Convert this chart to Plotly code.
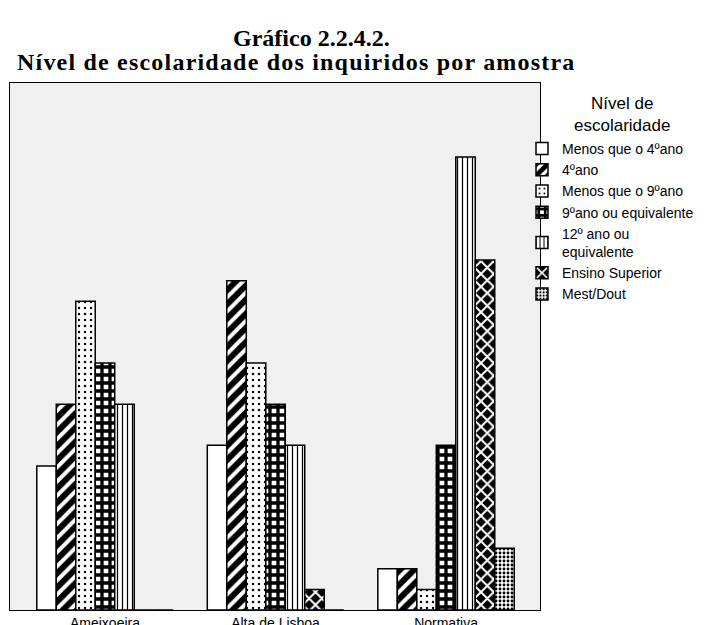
import plotly.graph_objects as go

categories = ["Ameixoeira", "Alta de Lisboa", "Normativa"]
levels = ["Menos que o 4ºano", "4ºano", "Menos que o 9ºano", "9ºano ou equivalente",
          "12º ano ou<br>equivalente", "Ensino Superior", "Mest/Dout"]
menos_4 = [7, 8, 2]
ano_4 = [10, 16, 2]
menos_9 = [15, 12, 1]
ano_9 = [12, 10, 8]
ano_12 = [10, 8, 22]
superior = [0, 1, 17]
mest_dout = [0, 0, 3]
series = [menos_4, ano_4, menos_9, ano_9, ano_12, superior, mest_dout]

patterns = [
    dict(shape=""),
    dict(shape="/", fgcolor="black", bgcolor="white", size=10, solidity=0.6, fgopacity=1),
    dict(shape=".", fgcolor="black", bgcolor="white", size=6, solidity=0.14, fgopacity=1),
    dict(shape="+", fgcolor="black", bgcolor="white", size=8, solidity=0.65, fgopacity=1),
    dict(shape="|", fgcolor="black", bgcolor="white", size=5, solidity=0.25, fgopacity=1),
    dict(shape="x", fgcolor="white", bgcolor="black", size=9, solidity=0.4, fgopacity=1),
    dict(shape=".", fgcolor="black", bgcolor="white", size=4, solidity=0.4, fgopacity=1),
]

W, H = 697, 617
ML, MR, MT, MB = 2, 165, 75, 15
PW, PH = W - ML - MR, H - MT - MB
OFF = 8  # page body margin


def px(xp):
    return (xp - OFF - ML) / PW


def py(yp):
    return (OFF + H - MB - yp) / PH


fig = go.Figure()
for name, vals, pat in zip(levels, series, patterns):
    fig.add_trace(go.Bar(
        x=categories, y=vals, name=name,
        marker=dict(color="white", line=dict(color="black", width=1.5), pattern=pat),
    ))

fig.update_layout(
    width=W, height=H,
    margin=dict(l=ML, r=MR, t=MT, b=MB, autoexpand=False),
    paper_bgcolor="white", plot_bgcolor="#f0f0f0",
    barmode="group", bargap=0.2, bargroupgap=0,
    font=dict(family="Liberation Sans, Arial", size=14, color="black"),
    showlegend=True,
    legend=dict(
        x=px(522), xanchor="left", y=py(133), yanchor="top",
        font=dict(size=14), tracegroupgap=0, itemwidth=30,
        bgcolor="rgba(0,0,0,0)",
    ),
)
fig.add_annotation(text="Nível de<br>escolaridade", x=px(622), y=py(114),
                   xref="paper", yref="paper", xanchor="center", yanchor="middle",
                   align="center", showarrow=False,
                   font=dict(family="Liberation Sans, Arial", size=17))
fig.add_annotation(text="<b>Gráfico 2.2.4.2.</b>", x=px(311), y=py(38),
                   xref="paper", yref="paper", xanchor="center", yanchor="middle",
                   showarrow=False,
                   font=dict(family="Liberation Serif, Times New Roman", size=24))
fig.add_annotation(text="<b><span style=\"letter-spacing:1.2px\">Nível de escolaridade dos inquiridos por amostra</span></b>",
                   x=px(296), y=py(62),
                   xref="paper", yref="paper", xanchor="center", yanchor="middle",
                   showarrow=False,
                   font=dict(family="Liberation Serif, Times New Roman", size=24))

fig.update_xaxes(range=[-0.557, 2.551], showline=True, linecolor="black", linewidth=1,
                 mirror=True, ticks="", tickfont=dict(size=14), automargin=False,
                 showgrid=False)
fig.update_yaxes(range=[0, 25.6], showline=True, linecolor="black", linewidth=1,
                 mirror=True, showticklabels=False, ticks="", showgrid=False,
                 zeroline=False, automargin=False)

fig.write_html("out.html")
